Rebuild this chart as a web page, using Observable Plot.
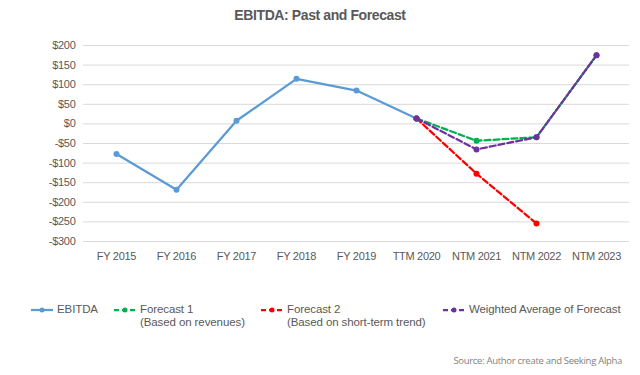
<!DOCTYPE html>
<html>
<head>
<meta charset="utf-8">
<script src="https://cdn.jsdelivr.net/npm/d3@7"></script>
<script src="https://cdn.jsdelivr.net/npm/@observablehq/plot@0.6"></script>
<style>
  html, body { margin: 0; padding: 0; background: #fff; }
  body { width: 640px; height: 375px; position: relative; overflow: hidden; font-family: "Liberation Sans", Arial, sans-serif; }
  #title { position: absolute; top: 7px; left: 0; width: 640px; text-align: center; font-weight: bold; font-size: 14px; color: #595959; letter-spacing: -0.4px; }
  #ylabel { position: absolute; left: 17px; top: 157px; transform: translate(-50%, -50%) rotate(-90deg); font-weight: bold; font-size: 12px; color: #404040; white-space: nowrap; }
  #chart { position: absolute; top: 30px; left: 0; }
  #chart svg text { letter-spacing: -0.3px; }
  .leg { position: absolute; top: 303px; font-size: 11.5px; color: #595959; line-height: 13px; display: flex; align-items: flex-start; letter-spacing: -0.1px; }
  .leg svg { margin-right: 3px; margin-top: 1px; }
  #source { position: absolute; top: 354px; right: 18px; font-family: "Open Sans", sans-serif; font-size: 9.5px; color: #7f7f7f; letter-spacing: -0.3px; }
</style>
</head>
<body>
<div id="title">EBITDA: Past and Forecast</div>
<div id="ylabel">EBITDA (M)</div>
<div id="chart"></div>
<div id="legend"></div>
<div id="source">Source: Author create and Seeking Alpha</div>
<script>
const categories = ["FY 2015", "FY 2016", "FY 2017", "FY 2018", "FY 2019", "TTM 2020", "NTM 2021", "NTM 2022", "NTM 2023"];
const ebitdaCats = ["FY 2015", "FY 2016", "FY 2017", "FY 2018", "FY 2019", "TTM 2020"];
const ebitda = [-77, -168, 8, 115, 85, 14];
const forecast1Cats = ["TTM 2020", "NTM 2021", "NTM 2022", "NTM 2023"];
const forecast1 = [14, -43, -34, 175];
const forecast2Cats = ["TTM 2020", "NTM 2021", "NTM 2022"];
const forecast2 = [14, -127, -254];
const weightedCats = ["TTM 2020", "NTM 2021", "NTM 2022", "NTM 2023"];
const weighted = [14, -65, -34, 175];
const yTicks = [200, 150, 100, 50, 0, -50, -100, -150, -200, -250, -300];

const series = [
  {name: "EBITDA", sub: "", cats: ebitdaCats, vals: ebitda, color: "#5B9BD5", dash: null},
  {name: "Forecast 2", sub: "(Based on short-term trend)", cats: forecast2Cats, vals: forecast2, color: "#FF0000", dash: "6,3"},
  {name: "Forecast 1", sub: "(Based on revenues)", cats: forecast1Cats, vals: forecast1, color: "#00B050", dash: "6,3"},
  {name: "Weighted Average of Forecast", sub: "", cats: weightedCats, vals: weighted, color: "#7030A0", dash: "6,3"}
];

const toRows = s => s.cats.map((c, i) => ({cat: c, v: s.vals[i]}));
const fmt = d => (d < 0 ? "-" : "") + "$" + Math.abs(d);

const marks = [
  Plot.gridY(yTicks, {stroke: "#d9d9d9", strokeOpacity: 1, strokeWidth: 1}),
  Plot.axisY(yTicks, {tickSize: 0, tickPadding: 8, tickFormat: fmt, fontSize: 11, fill: "#595959", label: null}),
  Plot.axisX({tickSize: 0, tickPadding: 11, fontSize: 11, fill: "#595959", label: null})
];
for (const s of series) {
  const rows = toRows(s);
  marks.push(Plot.line(rows, {x: "cat", y: "v", stroke: s.color, strokeWidth: 2.25, strokeDasharray: s.dash || undefined}));
  marks.push(Plot.dot(rows, {x: "cat", y: "v", fill: s.color, r: 3}));
}

const chart = Plot.plot({
  width: 640,
  height: 241,
  marginTop: 15,
  marginBottom: 30,
  marginLeft: 83,
  marginRight: 11,
  style: {fontFamily: "Liberation Sans, Arial, sans-serif", background: "white"},
  x: {type: "point", domain: categories, padding: 0.5},
  y: {domain: [-300, 200]},
  marks
});
document.getElementById("chart").appendChild(chart);

// Legend
const legendOrder = [
  {s: series[0], left: 30},
  {s: series[2], left: 113},
  {s: series[1], left: 260},
  {s: series[3], left: 442}
];
const legend = document.getElementById("legend");
for (const {s, left} of legendOrder) {
  const div = document.createElement("div");
  div.className = "leg";
  div.style.left = left + "px";
  const sw = `<svg width="24" height="12"><line x1="1" x2="23" y1="6" y2="6" stroke="${s.color}" stroke-width="2.25" ${s.dash ? 'stroke-dasharray="5,3"' : ''}/><circle cx="12" cy="6" r="2.5" fill="${s.color}"/></svg>`;
  div.innerHTML = sw + `<div>${s.name}${s.sub ? "<br>" + s.sub : ""}</div>`;
  legend.appendChild(div);
}
</script>
</body>
</html>
